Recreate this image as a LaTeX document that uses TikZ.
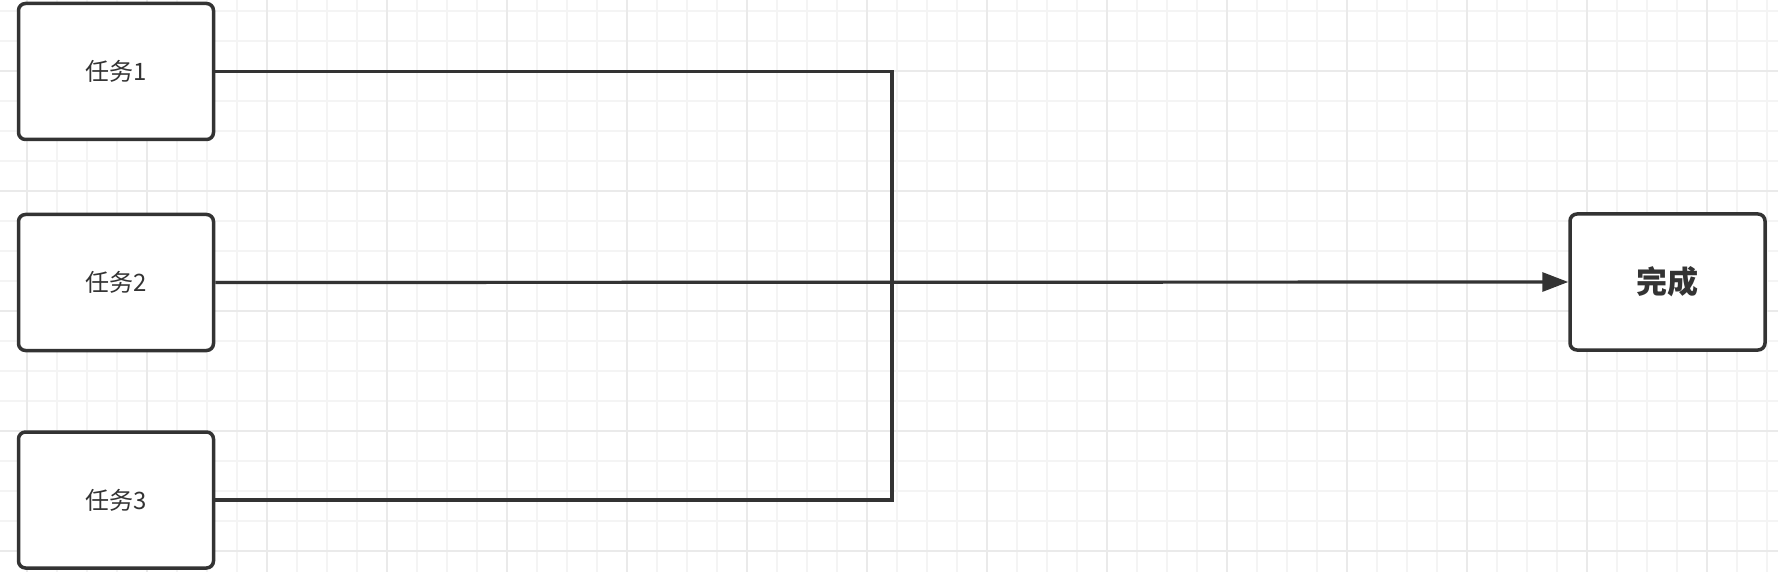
\documentclass[tikz,border=0pt]{standalone}
\usepackage{fontspec}
\newfontfamily\cjk{Noto Sans CJK SC}
\usetikzlibrary{arrows.meta}
\definecolor{ink}{HTML}{333333}
\definecolor{gridminor}{HTML}{F4F4F4}
\definecolor{gridmajor}{HTML}{EAEAEA}
\tikzset{
  taskbox/.style={draw=ink, line width=3.5pt, rounded corners=7pt, fill=white,
    minimum width=195pt, minimum height=136pt, inner sep=0pt, text=ink,
    font=\cjk\fontsize{24}{28}\selectfont},
  donebox/.style={taskbox, font=\cjk\bfseries\fontsize{31}{36}\selectfont},
  conn/.style={draw=ink, line width=3.2pt},
  arrowconn/.style={conn, -{Triangle[length=26pt,width=19pt]}},
}
\begin{document}
\begin{tikzpicture}[x=1pt,y=-1pt]
  \useasboundingbox (0,0) rectangle (1778,572);
  \fill[white] (0,0) rectangle (1778,572);
  % grid
  \foreach \gx in {-3,27,...,1778} {
    \draw[gridminor, line width=1.6pt] (\gx,0) -- (\gx,572);
  }
  \foreach \gy in {11,41,...,572} {
    \draw[gridminor, line width=1.6pt] (0,\gy) -- (1778,\gy);
  }
  \foreach \gx in {27,147,...,1778} {
    \draw[gridmajor, line width=1.8pt] (\gx,0) -- (\gx,572);
  }
  \foreach \gy in {71,191,...,572} {
    \draw[gridmajor, line width=1.8pt] (0,\gy) -- (1778,\gy);
  }
  % nodes
  \node[taskbox] (t1) at (116,71.5) {任务1};
  \node[taskbox] (t2) at (116,282.5) {任务2};
  \node[taskbox] (t3) at (116,500) {任务3};
  \node[donebox] (done) at (1667.5,282) {完成};
  \coordinate (j1) at (892,71.5);
  \coordinate (j3) at (892,500);
  % connectors
  \draw[conn, line join=miter] (t1.east) -- (j1) -- (j3) -- (t3.east);
  \draw[arrowconn] (t2.east) -- (done.west);
\end{tikzpicture}
\end{document}
